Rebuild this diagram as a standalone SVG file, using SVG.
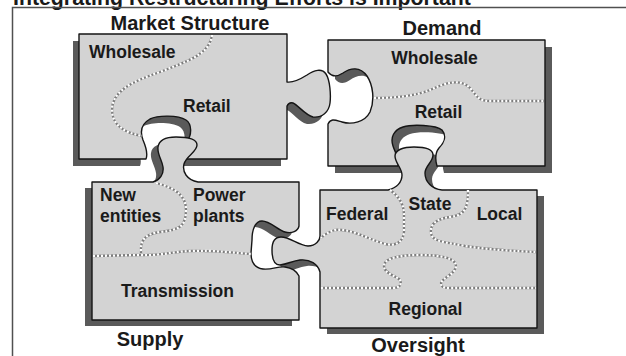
<svg xmlns="http://www.w3.org/2000/svg" xmlns:xlink="http://www.w3.org/1999/xlink" width="626" height="356" viewBox="0 0 626 356">
<style>
.piece{fill:#d3d3d3;stroke:#151515;stroke-width:1.4;stroke-linejoin:round}
.shadow{fill:#5a5a5a;stroke:none}
.dotb{fill:none;stroke:#7d7d7d;stroke-width:2.3}
.dotw{fill:none;stroke:#ffffff;stroke-width:2.3;stroke-dasharray:2 2}
.hd{font-family:"Liberation Sans",Arial,sans-serif;font-weight:bold;font-size:20px;fill:#1a1a1a;text-anchor:middle}
.lb{font-family:"Liberation Sans",Arial,sans-serif;font-weight:bold;font-size:17.5px;fill:#1a1a1a}
.frame{fill:none;stroke:#505050;stroke-width:1.5}
</style>
<defs>
<path id="p-ms" d="M79,34 H287 V82 C293,83 299,80 307,75 C314,70 322,68 326,74 C330,80 331,95 330,103 C329,112 322,118 313,117 C305,115 298,105 293,103 C290,102 288,104 287,106 V159 H184 C182,152 183,146 187,141 C192,135 192,124 186,120 C178,115 158,115 150,119 C141,124 140,132 143,140 C146,147 148,154 146,159 H79 Z"/>
<path id="p-dem" d="M328,40 H545 V166 H437 C435,159 435,153 439,148 C444,143 447,136 442,130 C436,125 412,124 403,127 C394,130 390,137 393,146 C395,152 399,158 398,166 H328 V124 C331,118 335,120 342,122 C352,125 365,122 370,112 C375,100 373,85 367,76 C360,66 350,68 343,73 C337,77 332,77 328,72 Z"/>
<path id="p-sup" d="M92,182 H153 C160,180 164,174 163,167 C162,160 157,154 158,147 C159,140 166,137 176,137 C187,137 197,139 197,145 C197,152 186,156 184,164 C182,172 187,180 198,182 H299 V226 C298,231 292,234 285,232 C278,230 270,221 262,221 C255,221 252,230 252,240 L251,253 C251,262 255,268 263,269 C272,270 278,266 285,267 C292,268 297,272 299,276 V320 H92 Z"/>
<path id="p-ovs" d="M320,190 H388 C397,188 402,182 402,175 C402,168 395,163 395,156 C395,150 403,147 414,147 C426,147 433,149 433,155 C433,162 425,166 425,173 C425,182 432,189 442,190 H537 V328 H320 V272 C318,264 310,259 300,260 C292,261 288,264 280,265 C274,265 272,258 272,250 C272,242 275,237 281,237 C290,237 298,245 308,246 C316,246 320,240 320,236 Z"/>
</defs>
<rect width="626" height="356" fill="#ffffff"/>
<text x="13" y="5" style="font-family:'Liberation Sans',Arial,sans-serif;font-weight:bold;font-size:21.3px;fill:#1a1a1a">Integrating Restructuring Efforts is Important</text>
<path class="frame" d="M12.5,356 V7.5 H626"/>
<g id="shadows">
<use xlink:href="#p-ms" class="shadow" transform="translate(-6,7)"/>
<use xlink:href="#p-dem" class="shadow" transform="translate(7,7)"/>
<use xlink:href="#p-sup" class="shadow" transform="translate(-7,6)"/>
<use xlink:href="#p-ovs" class="shadow" transform="translate(7,6)"/>
</g>
<g id="market-structure">
<use xlink:href="#p-ms" class="piece"/>
<path class="dotb" d="M212,35 C210,55 185,62 160,72 C130,82 112,92 112,110 C112,125 125,133 142,136"/>
<path class="dotw" d="M212,35 C210,55 185,62 160,72 C130,82 112,92 112,110 C112,125 125,133 142,136"/>
<text class="hd" x="190" y="30">Market Structure</text>
<text class="lb" x="89" y="58">Wholesale</text>
<text class="lb" x="183" y="112">Retail</text>
</g>
<g id="demand">
<use xlink:href="#p-dem" class="piece"/>
<path class="dotb" d="M374,98 C395,98 415,96 430,90 C445,83 460,78 470,88 C477,96 478,101 490,101 L544,101"/>
<path class="dotw" d="M374,98 C395,98 415,96 430,90 C445,83 460,78 470,88 C477,96 478,101 490,101 L544,101"/>
<text class="hd" x="442" y="35">Demand</text>
<text class="lb" x="434.5" y="64" text-anchor="middle">Wholesale</text>
<text class="lb" x="438.5" y="118" text-anchor="middle">Retail</text>
</g>
<g id="supply">
<use xlink:href="#p-sup" class="piece"/>
<path class="dotb" d="M156,183 C175,188 186,195 186,210 C186,226 180,230 160,232 C145,234 140,240 141,253"/>
<path class="dotw" d="M156,183 C175,188 186,195 186,210 C186,226 180,230 160,232 C145,234 140,240 141,253"/>
<path class="dotb" d="M93,256 L140,255 C160,256 170,252 190,251 C215,250 235,253 251,254"/>
<path class="dotw" d="M93,256 L140,255 C160,256 170,252 190,251 C215,250 235,253 251,254"/>
<text class="hd" x="150" y="346">Supply</text>
<text class="lb" x="100" y="201">New</text>
<text class="lb" x="100" y="222">entities</text>
<text class="lb" x="193" y="201">Power</text>
<text class="lb" x="193" y="222">plants</text>
<text class="lb" x="177.5" y="297" text-anchor="middle">Transmission</text>
</g>
<g id="oversight">
<use xlink:href="#p-ovs" class="piece"/>
<path class="dotb" d="M390,190 C400,197 404,205 404,215 L404,232 C403,243 395,246 385,244 C365,238 350,228 335,230 C328,232 324,235 321,238"/>
<path class="dotw" d="M390,190 C400,197 404,205 404,215 L404,232 C403,243 395,246 385,244 C365,238 350,228 335,230 C328,232 324,235 321,238"/>
<path class="dotb" d="M468,190 C468,205 467,215 450,217 C435,219 430,225 431,233 C432,242 445,242 465,246 C490,250 515,251 536,252"/>
<path class="dotw" d="M468,190 C468,205 467,215 450,217 C435,219 430,225 431,233 C432,242 445,242 465,246 C490,250 515,251 536,252"/>
<path class="dotb" d="M321,288 L393,288 C400,288 402,284 400,280 C397,276 384,274 384,266 C384,258 400,255 420,255 C440,255 456,258 456,266 C456,274 442,278 441,283 C441,287 443,288 450,288 L536,288"/>
<path class="dotw" d="M321,288 L393,288 C400,288 402,284 400,280 C397,276 384,274 384,266 C384,258 400,255 420,255 C440,255 456,258 456,266 C456,274 442,278 441,283 C441,287 443,288 450,288 L536,288"/>
<text class="hd" x="418" y="352">Oversight</text>
<text class="lb" x="326" y="220">Federal</text>
<text class="lb" x="430" y="210" text-anchor="middle">State</text>
<text class="lb" x="499.5" y="220" text-anchor="middle">Local</text>
<text class="lb" x="425.5" y="315" text-anchor="middle">Regional</text>
</g>
</svg>
